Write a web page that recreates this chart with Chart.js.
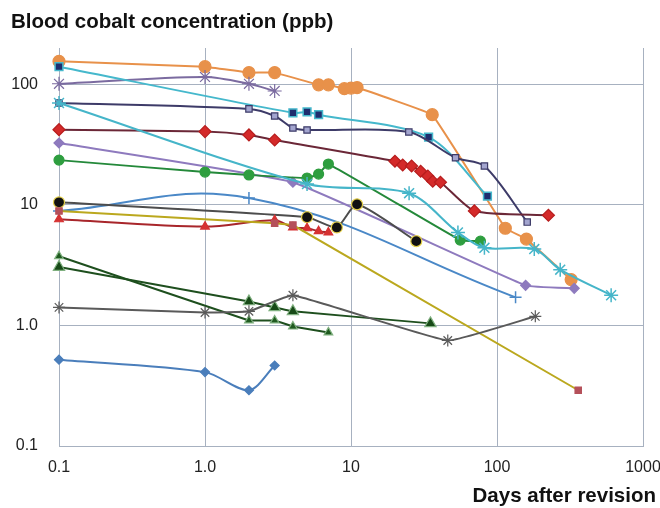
<!DOCTYPE html>
<html>
<head>
<meta charset="utf-8">
<script src="https://cdn.jsdelivr.net/npm/chart.js@4"></script>
<style>
  body { margin: 0; background: #fff; }
  canvas { display: block; }
</style>
</head>
<body>
<canvas id="myChart" width="660" height="508"></canvas>
<script>
// axis ticks
var xTicks = [0.1, 1, 10, 100, 1000];
var xTickLabels = ['0.1', '1.0', '10', '100', '1000'];
var yTicks = [0.1, 1, 10, 100];
var yTickLabels = ['0.1', '1.0', '10', '100'];

// one pair of arrays per patient: days after revision / blood cobalt (ppb)
var orangeDays = [0.1, 1, 2, 3, 6, 7, 9, 10, 11, 36, 114, 159, 322];
var orangeCo   = [155, 140, 125, 125, 99, 99, 92, 93, 94, 56, 6.4, 5.2, 2.4];

var purpleXDays = [0.1, 1, 2, 3];
var purpleXCo   = [101, 115, 101, 88];

var navySqDays = [0.1, 4, 5, 6, 34, 86];
var navySqCo   = [140, 58, 59, 56, 36.5, 11.8];

var slateDays = [0.1, 2, 3, 4, 5, 24.9, 52, 82, 161];
var slateCo   = [70, 62.5, 54.6, 43.4, 41.8, 40.2, 24.6, 21, 7.2];

var redDiaDays = [0.1, 1, 2, 3, 20, 22.6, 26, 30, 33.6, 36.3, 41, 70, 225];
var redDiaCo   = [42, 40.5, 38, 34.5, 23, 21.4, 21, 19, 17.3, 15.7, 15.4, 8.9, 8.2];

var lavDays = [0.1, 4, 157, 338];
var lavCo   = [32.6, 15.4, 2.15, 2.03];

var greenDays = [0.1, 1, 2, 5, 6, 7, 56, 77];
var greenCo   = [23.5, 18.7, 17.7, 16.7, 18, 21.8, 5.1, 5.0];

var cyanStarDays = [0.1, 5, 25, 54, 82, 180, 271, 605];
var cyanStarCo   = [70, 14.9, 12.5, 5.9, 4.4, 4.3, 2.9, 1.78];

var bluePlusDays = [0.1, 2, 134];
var bluePlusCo   = [8.9, 11.4, 1.71];

var blackDays = [0.1, 5, 8, 11, 28];
var blackCo   = [10.5, 7.9, 6.5, 10.1, 5.0];

var oliveDays = [0.1, 3, 4, 360];
var oliveCo   = [8.9, 7.05, 6.8, 0.29];

var redTriDays = [0.1, 1, 3, 4, 5, 6, 7];
var redTriCo   = [7.6, 6.6, 7.45, 6.5, 6.4, 6.05, 5.9];

var dkGreenADays = [0.1, 2, 3, 4, 7];
var dkGreenACo   = [3.75, 1.1, 1.1, 0.98, 0.875];

var dkGreenBDays = [0.1, 2, 3, 4, 35];
var dkGreenBCo   = [3.05, 1.58, 1.41, 1.31, 1.04];

var greyStarDays = [0.1, 1, 2, 4, 46, 183];
var greyStarCo   = [1.41, 1.28, 1.31, 1.78, 0.75, 1.19];

var blueDiaDays = [0.1, 1, 2, 3];
var blueDiaCo   = [0.52, 0.41, 0.29, 0.465];

function pts(days, co) {
  return days.map(function(d, i){ return {x: d, y: co[i]}; });
}

function series(days, co, line, style, bg, border, r, extra) {
  var ds = {
    data: pts(days, co),
    showLine: true,
    borderColor: line,
    borderWidth: 2,
    tension: 0.3,
    pointStyle: style,
    pointRadius: r,
    pointBackgroundColor: bg,
    pointBorderColor: border,
    pointBorderWidth: 1.2,
    clip: false
  };
  for (var k in extra) ds[k] = extra[k];
  return ds;
}

var gridColor = '#A7B1C0';
var tickFont = {family: "'Liberation Sans', Arial, sans-serif", size: 16};

var titles = {
  id: 'titles',
  afterDraw: function(chart) {
    var c = chart.ctx;
    c.save();
    c.fillStyle = '#111';
    c.font = "bold 20.5px 'Liberation Sans', Arial, sans-serif";
    c.textBaseline = 'middle';
    c.textAlign = 'left';
    c.fillText('Blood cobalt concentration (ppb)', 11, 22);
    c.textAlign = 'right';
    c.fillText('Days after revision', 656, 496);
    c.restore();
  }
};

var ctx = document.getElementById('myChart').getContext('2d');
var myChart = new Chart(ctx, {
  type: 'scatter',
  data: {
    datasets: [
      series(blueDiaDays, blueDiaCo, '#4A7EBB', 'rectRot', '#4A7EBB', '#4A7EBB', 4.5),
      series(greyStarDays, greyStarCo, '#5A5A5A', 'star', '#5A5A5A', '#5A5A5A', 6, {tension: 0.1}),
      series(dkGreenADays, dkGreenACo, '#1E4F1E', 'triangle', '#1F5A1F', '#7FB07F', 5, {tension: 0.05}),
      series(dkGreenBDays, dkGreenBCo, '#1E4F1E', 'triangle', '#174A17', '#7FB07F', 6.5, {tension: 0.05}),
      series(oliveDays, oliveCo, '#BBA81E', 'rect', '#B5505A', '#B5505A', 4.5, {tension: 0}),
      series(redTriDays, redTriCo, '#A8262B', 'triangle', '#D63232', '#D63232', 5),
      series(blackDays, blackCo, '#4D4D4D', 'circle', '#111111', '#E4D04A', 5.5, {tension: 0.2}),
      series(bluePlusDays, bluePlusCo, '#4A88C7', 'cross', '#4A88C7', '#4A88C7', 6, {pointBorderWidth: 1.5, tension: 0.4}),
      series(cyanStarDays, cyanStarCo, '#45B5C9', 'star', '#45B5C9', '#45B5C9', 7, {pointBorderWidth: 1.5}),
      series(greenDays, greenCo, '#24893A', 'circle', '#2E9E3F', '#2E9E3F', 5, {tension: 0.1}),
      series(lavDays, lavCo, '#8E7ABE', 'rectRot', '#8E7ABE', '#8E7ABE', 5, {tension: 0.1}),
      series(redDiaDays, redDiaCo, '#6B2737', 'rectRot', '#D42A2A', '#B81E1E', 6, {tension: 0.2}),
      series(slateDays, slateCo, '#3D3B68', 'rect', '#A3A5CF', '#3D3B68', 4.5),
      series(navySqDays, navySqCo, '#45B8CC', 'rect', '#1F2D6E', '#45B8CC', 5.5, {pointBorderWidth: 1.5}),
      series(purpleXDays, purpleXCo, '#7B6BA0', 'star', '#7B6BA0', '#7B6BA0', 7),
      series(orangeDays, orangeCo, '#E8914A', 'circle', '#E8914A', '#E8914A', 6, {tension: 0.05})
    ]
  },
  options: {
    responsive: false,
    animation: false,
    layout: {padding: {top: 48, left: 11, right: 0, bottom: 31}},
    plugins: {legend: {display: false}, tooltip: {enabled: false}},
    scales: {
      x: {
        type: 'logarithmic',
        min: 0.1,
        max: 1000,
        afterBuildTicks: function(axis) {
          axis.ticks = xTicks.map(function(v){ return {value: v}; });
        },
        afterFit: function(s) {
          s.height = 31;
          s.paddingRight = 17;
        },
        ticks: {
          callback: function(v, i) { return xTickLabels[i]; },
          font: tickFont,
          color: '#222',
          padding: 12,
          maxRotation: 0,
          autoSkip: false
        },
        grid: {color: gridColor, drawTicks: false},
        border: {color: gridColor}
      },
      y: {
        type: 'logarithmic',
        min: 0.1,
        max: 200,
        afterBuildTicks: function(axis) {
          axis.ticks = yTicks.map(function(v){ return {value: v}; });
        },
        afterFit: function(s) {
          s.width = 48;
        },
        ticks: {
          callback: function(v, i) { return yTickLabels[i]; },
          font: tickFont,
          color: '#222',
          padding: 21,
          autoSkip: false
        },
        grid: {color: gridColor, drawTicks: false},
        border: {color: gridColor}
      }
    }
  },
  plugins: [titles]
});
</script>
</body>
</html>
